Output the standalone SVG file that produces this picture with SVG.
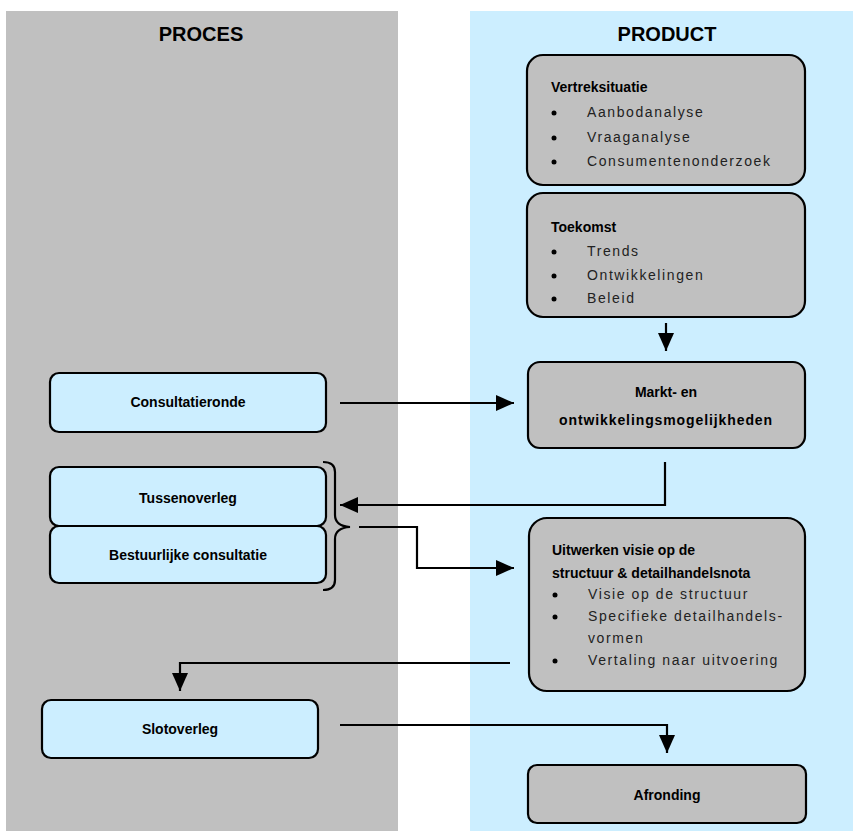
<svg xmlns="http://www.w3.org/2000/svg" width="853" height="831" viewBox="0 0 853 831">
<defs>
<style>
.col-proces{fill:#c0c0c0}
.col-product{fill:#cceeff}
.head{font-family:"Liberation Sans",Arial,sans-serif;font-weight:bold;font-size:20px;fill:#000;text-anchor:middle}
.pbox{fill:#c0c0c0;stroke:#000;stroke-width:2.2}
.sbox{fill:#cceeff;stroke:#000;stroke-width:2.2}
.title{font-family:"Liberation Sans",Arial,sans-serif;font-weight:bold;font-size:14px;fill:#000}
.ctitle{font-family:"Liberation Sans",Arial,sans-serif;font-weight:bold;font-size:14px;fill:#000;text-anchor:middle}
.item{font-family:"Liberation Sans",Arial,sans-serif;font-size:14px;letter-spacing:1.6px;fill:#222}
.conn{fill:none;stroke:#000;stroke-width:2.2}
</style>
<marker id="arrow" viewBox="0 0 18 16" refX="18" refY="8" markerWidth="18" markerHeight="16" markerUnits="userSpaceOnUse" orient="auto">
<path d="M0,0 L18,8 L0,16 Z" fill="#000"/>
</marker>
</defs>

<rect class="col-proces" x="6" y="11" width="392" height="820"/>
<rect class="col-product" x="470" y="11" width="383" height="820"/>
<text class="head" x="201" y="41">PROCES</text>
<text class="head" x="667" y="41">PRODUCT</text>

<g id="vertreksituatie">
<rect class="pbox" x="527" y="55" width="278" height="130" rx="16"/>
<text class="title" x="551" y="92">Vertreksituatie</text>
<circle cx="554" cy="113" r="2.5"/><text class="item" x="587" y="117">Aanbodanalyse</text>
<circle cx="554" cy="138" r="2.5"/><text class="item" x="587" y="142">Vraaganalyse</text>
<circle cx="554" cy="162" r="2.5"/><text class="item" x="587" y="166">Consumentenonderzoek</text>
</g>

<g id="toekomst">
<rect class="pbox" x="527" y="193" width="278" height="124" rx="16"/>
<text class="title" x="551" y="232">Toekomst</text>
<circle cx="554" cy="252" r="2.5"/><text class="item" x="587" y="256">Trends</text>
<circle cx="554" cy="276" r="2.5"/><text class="item" x="587" y="280">Ontwikkelingen</text>
<circle cx="554" cy="299" r="2.5"/><text class="item" x="587" y="303">Beleid</text>
</g>

<g id="markt">
<rect class="pbox" x="528" y="362" width="277" height="86" rx="12"/>
<text class="ctitle" x="666" y="397">Markt- en</text>
<text class="ctitle" x="666" y="425" letter-spacing="0.9">ontwikkelingsmogelijkheden</text>
</g>

<g id="uitwerken">
<rect class="pbox" x="529" y="518" width="276" height="173" rx="18"/>
<text class="title" x="552" y="555">Uitwerken visie op de</text>
<text class="title" x="552" y="578">structuur &amp; detailhandelsnota</text>
<circle cx="555" cy="595" r="2.5"/><text class="item" x="588" y="599">Visie op de structuur</text>
<circle cx="555" cy="617" r="2.5"/><text class="item" x="588" y="621">Specifieke detailhandels-</text>
<text class="item" x="588" y="643">vormen</text>
<circle cx="555" cy="661" r="2.5"/><text class="item" x="588" y="665">Vertaling naar uitvoering</text>
</g>

<g id="afronding">
<rect class="pbox" x="528" y="765" width="278" height="58" rx="9"/>
<text class="ctitle" x="667" y="800">Afronding</text>
</g>

<g id="consultatieronde">
<rect class="sbox" x="50" y="373" width="276" height="59" rx="9"/>
<text class="ctitle" x="188" y="407" font-size="13.5">Consultatieronde</text>
</g>

<g id="tussenoverleg">
<rect class="sbox" x="50" y="467" width="276" height="59" rx="9"/>
<text class="ctitle" x="188" y="503" font-size="13.5">Tussenoverleg</text>
</g>

<g id="bestuurlijke">
<rect class="sbox" x="50" y="526" width="276" height="57" rx="9"/>
<text class="ctitle" x="188" y="560" font-size="13.5">Bestuurlijke consultatie</text>
</g>

<g id="slotoverleg">
<rect class="sbox" x="42" y="700" width="276" height="58" rx="9"/>
<text class="ctitle" x="180" y="734" font-size="13.5">Slotoverleg</text>
</g>

<g id="brace">
<path class="conn" d="M323,462 Q335,462 335,472 L335,515 Q335,526 350,527 Q335,528 335,539 L335,580 Q335,590 323,590"/>
</g>

<g id="connectors">
<path class="conn" d="M666,323 L666,351" marker-end="url(#arrow)"/>
<path class="conn" d="M340,403 L514,403" marker-end="url(#arrow)"/>
<path class="conn" d="M665,462 L665,505 L340,505" marker-end="url(#arrow)"/>
<path class="conn" d="M359,527 L417,527 L417,568 L514,568" marker-end="url(#arrow)"/>
<path class="conn" d="M510,663 L180,663 L180,691" marker-end="url(#arrow)"/>
<path class="conn" d="M340,725 L667,725 L667,753" marker-end="url(#arrow)"/>
</g>
</svg>
